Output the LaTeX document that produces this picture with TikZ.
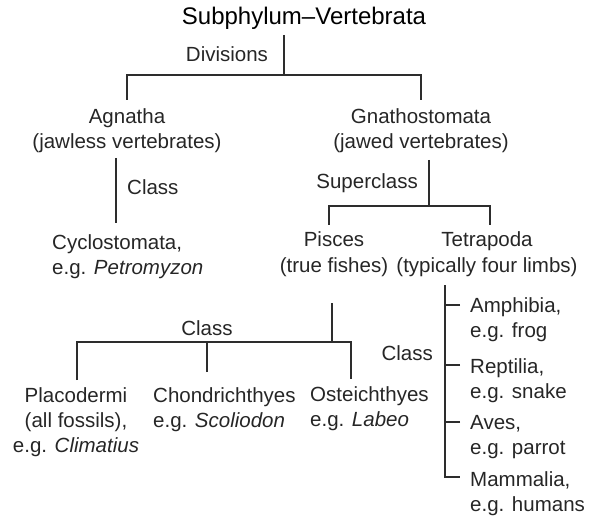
\documentclass[tikz,border=0pt]{standalone}
\usepackage{fontspec}
\setmainfont{Liberation Sans}
\usetikzlibrary{positioning}
\definecolor{InkGray}{RGB}{38,38,38}
\definecolor{LineGray}{RGB}{45,45,45}

\begin{document}
\begin{tikzpicture}[x=1pt, y=-1pt, every node/.style={font=\fontsize{20.5}{25}\selectfont, inner sep=0pt, text=InkGray}]
  \tikzset{
    taxon/.style={align=center, anchor=base},
    taxonl/.style={align=left, anchor=base west},
    rank/.style={anchor=base},
    branch/.style={draw=LineGray, line width=1.2pt}
  }
  \useasboundingbox (0,0) rectangle (593,518);
  % top level (multi-line nodes sit on their last baseline)
  \node[anchor=base, font=\fontsize{24}{28}\selectfont, text=black] (sub) at (304,25) {Subphylum--Vertebrata};
  \node[rank] (div) at (227,62) {Divisions};
  \node[taxon] (agn) at (127,149) {Agnatha\\(jawless vertebrates)};
  \node[taxon] (gna) at (421,149) {Gnathostomata\\(jawed vertebrates)};
  \coordinate (subj) at (284,35);
  \coordinate (divj) at (284,75);
  \coordinate (agnj) at (127,100);
  \coordinate (gnaj) at (421,100);
  \draw[branch] (subj) -- (divj);
  \draw[branch] (agnj) |- (divj) -| (gnaj);
  % agnatha
  \node[rank, anchor=base west] (cls1) at (127,195) {Class};
  \node[taxonl] (cyc) at (52,274) {Cyclostomata,\\e.g. \textit{Petromyzon}};
  \coordinate (agnb) at (116,158);
  \coordinate (cycj) at (116,223);
  \draw[branch] (agnb) -- (cycj);
  % gnathostomata
  \node[rank, anchor=base east] (sup) at (418,189) {Superclass};
  \node[taxon] (pis) at (334,272) {Pisces\\(true fishes)};
  \node[taxon] (tet) at (487,272) {Tetrapoda\\(typically four limbs)};
  \coordinate (gnab) at (429,160);
  \coordinate (supj) at (429,206);
  \coordinate (pisj) at (329,225);
  \coordinate (tetj) at (490,225);
  \draw[branch] (gnab) -- (supj);
  \draw[branch] (pisj) |- (supj) -| (tetj);
  % pisces
  \node[rank] (cls2) at (207,335) {Class};
  \node[taxon] (pla) at (76,452) {Placodermi\\(all fossils),\\e.g. \textit{Climatius}};
  \node[taxonl] (cho) at (153,427) {Chondrichthyes\\e.g. \textit{Scoliodon}};
  \node[taxonl] (ost) at (310,426) {Osteichthyes\\e.g. \textit{Labeo}};
  \coordinate (pisb) at (332,303);
  \coordinate (clsj) at (332,342);
  \coordinate (plaj) at (77,380);
  \coordinate (choj) at (207,372);
  \coordinate (ostj) at (351,379);
  \draw[branch] (pisb) -- (clsj);
  \draw[branch] (plaj) |- (clsj) -| (ostj);
  \draw[branch] (choj) -- (choj |- clsj);
  % tetrapoda
  \node[rank, anchor=base east] (cls3) at (433,360) {Class};
  \node[taxonl] (amp) at (470,337) {Amphibia,\\e.g. frog};
  \node[taxonl] (rep) at (470,398) {Reptilia,\\e.g. snake};
  \node[taxonl] (ave) at (470,454) {Aves,\\e.g. parrot};
  \node[taxonl] (mam) at (470,511) {Mammalia,\\e.g. humans};
  \coordinate (tetb) at (445,285);
  \coordinate (ampt) at (460,305);
  \coordinate (rept) at (460,365);
  \coordinate (avet) at (460,422);
  \coordinate (mamt) at (460,477);
  \draw[branch] (tetb) |- (mamt);
  \draw[branch] (ampt) -- (ampt -| tetb);
  \draw[branch] (rept) -- (rept -| tetb);
  \draw[branch] (avet) -- (avet -| tetb);
\end{tikzpicture}
\end{document}
